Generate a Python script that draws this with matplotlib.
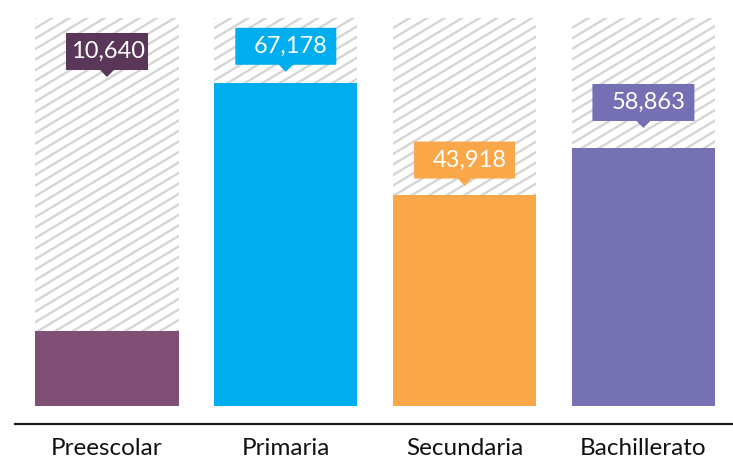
import numpy as np
import matplotlib
matplotlib.use("Agg")
import matplotlib.pyplot as plt
from matplotlib.patches import Polygon
from matplotlib.lines import Line2D
from matplotlib.transforms import IdentityTransform

# ---- data ----
categories = ["Preescolar", "Primaria", "Secundaria", "Bachillerato"]
values = [10640, 67178, 43918, 58863]          # callout numbers
coverage = [19.3, 83.3, 54.5, 66.5]            # bar fill (% of full column)
full = [100, 100, 100, 100]                     # hatched background column
bar_colors = ["#7f4f76", "#00aeef", "#f9a749", "#7671b3"]
box_colors = ["#5a3758", "#00aeef", "#f9a749", "#7470b3"]

# ---- layout (styles) ----
W, H, DPI = 733, 458, 100
fig = plt.figure(figsize=(W / DPI, H / DPI), dpi=DPI)
ax = fig.add_axes([15 / W, 34 / H, 718 / W, 416 / H])
ax.set_xlim(-0.5145, 3.501)
ax.set_ylim(-4.64, 102.58)

x = np.arange(len(categories))
bw = 0.80
hatch_bars = ax.bar(x, full, width=bw, color="white", zorder=1)
ax.bar(x, coverage, width=bw, color=bar_colors, zorder=3)

for s in ["top", "left", "right"]:
    ax.spines[s].set_visible(False)
ax.spines["bottom"].set_color("#1a1a1a")
ax.spines["bottom"].set_linewidth(1.6)
ax.set_yticks([])
ax.set_xticks(x)
ax.set_xticklabels(categories, fontsize=17.5, family="Lato", color="#111111")
ax.tick_params(axis="x", length=0, pad=10)

# ---- custom diagonal hatching (clipped to each background column) ----
ident = IdentityTransform()
ang = np.tan(np.deg2rad(31))
spacing = 10.5
for p in hatch_bars:
    (x0, y0) = ax.transData.transform((p.get_x(), 0))
    (x1, y1) = ax.transData.transform((p.get_x() + p.get_width(), p.get_height()))
    wpx = x1 - x0
    k0 = -int((wpx * ang) / spacing) - 2
    k1 = int((y1 - y0) / spacing) + 2
    for k in range(k0, k1):
        yy = y0 + k * spacing
        ln = Line2D([x0 - 5, x1 + 5], [yy - 5 * ang, yy + (wpx + 5) * ang],
                    transform=ident, color="#d5d5d5", lw=1.7, zorder=2)
        ax.add_line(ln)
        ln.set_clip_path(p)

# ---- callout labels ----
box_w = [82, 101, 101, 102]
box_h = 37
gap_px = [None, 18, 16, 27]
tip_w, tip_h = 14, 7
for i, v in enumerate(values):
    cx, top_disp = ax.transData.transform((x[i], coverage[i]))
    if gap_px[i] is None:
        ybot = H - 70
    else:
        ybot = top_disp + gap_px[i]
    bx0 = cx - box_w[i] / 2
    bx1 = cx + box_w[i] / 2
    verts = [(bx0, ybot), (cx - tip_w / 2, ybot), (cx, ybot - tip_h),
             (cx + tip_w / 2, ybot), (bx1, ybot), (bx1, ybot + box_h),
             (bx0, ybot + box_h)]
    poly = Polygon(verts, closed=True, transform=ident, facecolor=box_colors[i],
                   edgecolor="none", zorder=5)
    fig.add_artist(poly)
    fig.text(cx + (1 if i == 0 else 5), ybot + box_h / 2, f"{v:,}", transform=ident,
             ha="center", va="center", color="white", fontsize=17, family="Lato",
             zorder=6)

fig.savefig("out.png", dpi=DPI)
